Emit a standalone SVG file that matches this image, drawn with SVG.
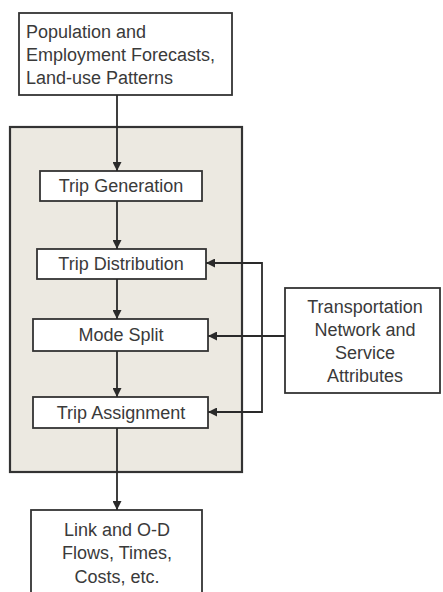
<svg xmlns="http://www.w3.org/2000/svg" width="443" height="592" viewBox="0 0 443 592">
<style>
.box{fill:#fff;stroke:#333;stroke-width:1.8}
.t{font-family:"Liberation Sans",Arial,sans-serif;font-size:18px;fill:#3a3a3a}
.c{text-anchor:middle}
.ln{stroke:#2a2a2a;stroke-width:1.8;fill:none}
</style>
<defs>
<marker id="ah" viewBox="0 0 10 10" refX="10" refY="5" markerWidth="9" markerHeight="9" markerUnits="userSpaceOnUse" orient="auto">
<path d="M0,0 L10,5 L0,10 z" fill="#2a2a2a"/>
</marker>
</defs>
<rect width="443" height="592" fill="#fff"/>
<g id="model">
<rect x="10" y="127" width="232" height="345" fill="#ece9e1" stroke="#333" stroke-width="2.2"/>
</g>
<g id="inputs">
<rect class="box" x="19" y="13" width="213" height="82"/>
<text class="t" x="26" y="38">Population and</text>
<text class="t" x="26" y="61">Employment Forecasts,</text>
<text class="t" x="26" y="84">Land-use Patterns</text>
</g>
<g id="gen">
<rect class="box" x="40" y="171" width="162" height="30"/>
<text class="t c" x="121" y="192">Trip Generation</text>
</g>
<g id="dist">
<rect class="box" x="37" y="249" width="169" height="30"/>
<text class="t c" x="121" y="270">Trip Distribution</text>
</g>
<g id="mode">
<rect class="box" x="33" y="319" width="175" height="32"/>
<text class="t c" x="121" y="341">Mode Split</text>
</g>
<g id="assign">
<rect class="box" x="33" y="397" width="175" height="31"/>
<text class="t c" x="121" y="419">Trip Assignment</text>
</g>
<g id="network">
<rect class="box" x="285" y="288" width="155" height="105"/>
<text class="t c" x="365" y="313">Transportation</text>
<text class="t c" x="365" y="336">Network and</text>
<text class="t c" x="365" y="359">Service</text>
<text class="t c" x="365" y="382">Attributes</text>
</g>
<g id="outputs">
<rect class="box" x="31" y="510" width="171" height="90"/>
<text class="t c" x="117" y="536">Link and O-D</text>
<text class="t c" x="117" y="559">Flows, Times,</text>
<text class="t c" x="117" y="583">Costs, etc.</text>
</g>
<g id="connectors">
<line class="ln" x1="117" y1="95" x2="117" y2="171" marker-end="url(#ah)"/>
<line class="ln" x1="117" y1="201" x2="117" y2="249" marker-end="url(#ah)"/>
<line class="ln" x1="117" y1="279" x2="117" y2="319" marker-end="url(#ah)"/>
<line class="ln" x1="117" y1="351" x2="117" y2="397" marker-end="url(#ah)"/>
<line class="ln" x1="117" y1="428" x2="117" y2="510" marker-end="url(#ah)"/>
<line class="ln" x1="285" y1="336" x2="208" y2="336" marker-end="url(#ah)"/>
<polyline class="ln" points="262,336 262,263 206,263" marker-end="url(#ah)"/>
<polyline class="ln" points="262,336 262,412 208,412" marker-end="url(#ah)"/>
</g>
</svg>
